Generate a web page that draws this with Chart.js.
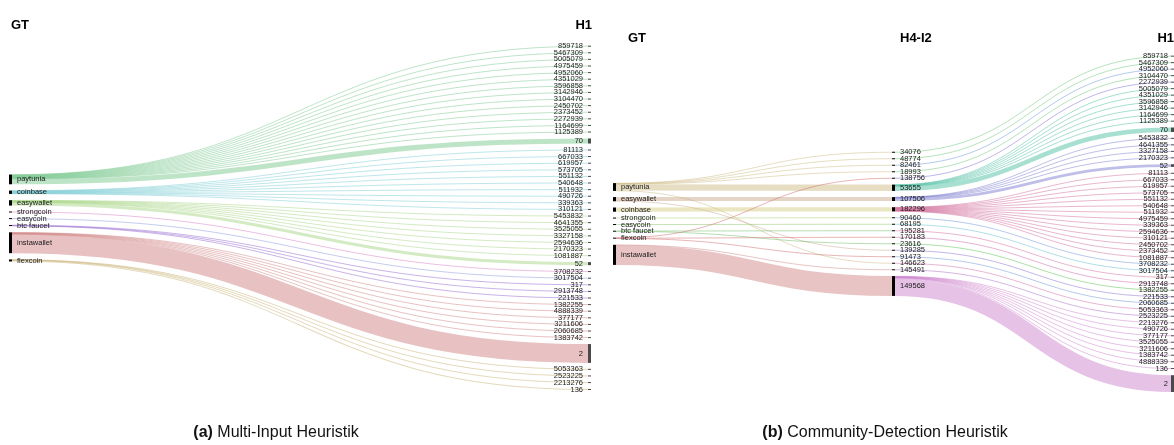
<!DOCTYPE html>
<html>
<head>
<meta charset="utf-8">
<script src="https://cdn.jsdelivr.net/npm/chart.js"></script>
<style>
  body { margin: 0; width: 1174px; height: 445px; background: #fff; position: relative; overflow: hidden;
         font-family: "Liberation Sans", Arial, sans-serif; }
  canvas { position: absolute; top: 0; }
  #ca { left: 0; }
  #cb { left: 605px; }
  .caption { position: absolute; top: 423px; font-size: 16px; line-height: 18px; color: #111;
             white-space: nowrap; transform: translateX(-50%); }
</style>
</head>
<body>
<canvas id="ca" width="605" height="445"></canvas>
<canvas id="cb" width="569" height="445"></canvas>
<div class="caption" style="left:276px"><b>(a)</b> Multi-Input Heuristik</div>
<div class="caption" style="left:885px"><b>(b)</b> Community-Detection Heuristik</div>
<script>
// ---- data ----
// ground truth wallets, order as drawn in each panel
const gtA = ['paytunia', 'coinbase', 'easywallet', 'strongcoin', 'easycoin', 'btc faucet', 'instawallet', 'flexcoin'];
const gtB = ['paytunia', 'easywallet', 'coinbase', 'strongcoin', 'easycoin', 'btc faucet', 'flexcoin', 'instawallet'];

// H1 clusters (multi-input heuristic), order in panel (a) and panel (b)
const h1A = ['859718', '5467309', '5005079', '4975459', '4952060', '4351029', '3596858', '3142946', '3104470',
  '2450702', '2373452', '2272939', '1164699', '1125389', '70', '81113', '667033', '619957', '573705', '551132',
  '540648', '511932', '490726', '339363', '310121', '5453832', '4641355', '3525055', '3327158', '2594636',
  '2170323', '1081887', '52', '3708232', '3017504', '317', '2913748', '221533', '1382255', '4888339', '377177',
  '3211606', '2060685', '1383742', '2', '5053363', '2523225', '2213276', '136'];
const h1B = ['859718', '5467309', '4952060', '3104470', '2272939', '5005079', '4351029', '3596858', '3142946',
  '1164699', '1125389', '70', '5453832', '4641355', '3327158', '2170323', '52', '81113', '667033', '619957',
  '573705', '551132', '540648', '511932', '4975459', '339363', '2594636', '310121', '2450702', '2373452',
  '1081887', '3708232', '3017504', '317', '2913748', '1382255', '221533', '2060685', '5053363', '2523225',
  '2213276', '490726', '377177', '3525055', '3211606', '1383742', '4888339', '136', '2'];

// H4-I2 clusters (community detection), panel (b) middle column
const h4B = ['34076', '48774', '82461', '18993', '138756', '53655', '107506', '182296', '90460', '68195',
  '195281', '170183', '23616', '139285', '91473', '146623', '145491', '149568'];

// size of the larger H1 clusters, every other cluster counts 1
const h1Big = ['70', '52', '2', '136'];
const h1BigValues = [15, 9, 56, 3];

// panel (a): GT wallet -> H1 clusters
const flowA = [
  ['paytunia', ['859718', '5467309', '5005079', '4975459', '4952060', '4351029', '3596858', '3142946', '3104470',
    '2450702', '2373452', '2272939', '1164699', '1125389', '70']],
  ['coinbase', ['81113', '667033', '619957', '573705', '551132', '540648', '511932', '490726', '339363', '310121']],
  ['easywallet', ['5453832', '4641355', '3525055', '3327158', '2594636', '2170323', '1081887', '52']],
  ['strongcoin', ['3708232']],
  ['easycoin', ['3017504']],
  ['btc faucet', ['317', '2913748', '221533']],
  ['instawallet', ['1382255', '4888339', '377177', '3211606', '2060685', '1383742', '2']],
  ['flexcoin', ['5053363', '2523225', '2213276', '136']]
];

// panel (b): GT wallet -> H4-I2 clusters
const flowB1 = [
  ['paytunia', ['34076', '48774', '82461', '18993', '53655', '146623']],
  ['easywallet', ['107506', '139285']],
  ['coinbase', ['182296']],
  ['strongcoin', ['90460']],
  ['easycoin', ['68195']],
  ['btc faucet', ['195281', '23616']],
  ['flexcoin', ['138756', '170183', '91473']],
  ['instawallet', ['145491', '149568']]
];

// panel (b): H4-I2 cluster -> H1 clusters
const flowB2 = [
  ['34076', ['859718']], ['48774', ['5467309']], ['82461', ['4952060']], ['18993', ['3104470']],
  ['138756', ['2272939']],
  ['53655', ['5005079', '4351029', '3596858', '3142946', '1164699', '1125389', '70']],
  ['107506', ['5453832', '4641355', '3327158', '2170323', '52']],
  ['182296', ['81113', '667033', '619957', '573705', '551132', '540648', '511932', '4975459', '339363',
    '2594636', '310121', '2450702', '2373452', '1081887']],
  ['90460', ['3708232']], ['68195', ['3017504']], ['195281', ['317']], ['170183', ['2913748']],
  ['23616', ['1382255']], ['139285', ['221533']], ['91473', ['2060685']], ['146623', ['5053363']],
  ['145491', ['2523225']],
  ['149568', ['2213276', '490726', '377177', '3525055', '3211606', '1383742', '4888339', '136', '2']]
];

// ---- colours (by link source) ----
const colorsA = {
  'paytunia': 'rgba(100,190,125,0.42)', 'coinbase': 'rgba(100,195,205,0.42)',
  'easywallet': 'rgba(150,205,110,0.42)', 'strongcoin': 'rgba(220,130,200,0.5)',
  'easycoin': 'rgba(140,155,225,0.5)', 'btc faucet': 'rgba(150,105,210,0.5)',
  'instawallet': 'rgba(200,110,110,0.42)', 'flexcoin': 'rgba(195,170,105,0.45)'
};
const colorsB = {
  'paytunia': 'rgba(200,180,120,0.45)', 'easywallet': 'rgba(200,160,130,0.45)',
  'coinbase': 'rgba(210,200,120,0.45)', 'strongcoin': 'rgba(170,210,110,0.5)',
  'easycoin': 'rgba(140,200,110,0.5)', 'btc faucet': 'rgba(110,190,100,0.5)',
  'flexcoin': 'rgba(210,110,110,0.5)', 'instawallet': 'rgba(200,115,115,0.42)',
  '34076': 'rgba(110,200,120,0.5)', '48774': 'rgba(110,200,120,0.5)', '82461': 'rgba(110,150,220,0.5)',
  '18993': 'rgba(110,200,120,0.5)', '138756': 'rgba(130,110,210,0.5)', '53655': 'rgba(60,185,150,0.45)',
  '107506': 'rgba(110,110,205,0.45)', '182296': 'rgba(205,95,145,0.45)', '90460': 'rgba(110,150,220,0.5)',
  '68195': 'rgba(100,190,210,0.5)', '195281': 'rgba(215,110,160,0.5)', '170183': 'rgba(205,100,170,0.5)',
  '23616': 'rgba(90,195,80,0.5)', '139285': 'rgba(140,110,210,0.5)', '91473': 'rgba(110,150,220,0.5)',
  '146623': 'rgba(210,110,170,0.5)', '145491': 'rgba(170,110,200,0.5)', '149568': 'rgba(195,110,195,0.42)'
};

// ---- sankey helpers ----
function h1Value(name) {
  const i = h1Big.indexOf(name);
  return i >= 0 ? h1BigValues[i] : 1;
}

function makeLinks(groups, valueOf) {
  const out = [];
  groups.forEach(([s, ts]) => ts.forEach(t => out.push({ s, t, v: valueOf(t) })));
  return out;
}

// stacks every column with a fixed gap (px) and centres it
function layout(cols, rawLinks, areaH, gapPx) {
  const nodes = {};
  cols.forEach((c, ci) => c.forEach(n => { nodes[n] = { name: n, col: ci, inV: 0, outV: 0, out: [], in: [] }; }));
  const links = rawLinks.map(l => {
    const link = { source: nodes[l.s], target: nodes[l.t], v: l.v };
    link.source.outV += l.v; link.target.inV += l.v;
    link.source.out.push(link); link.target.in.push(link);
    return link;
  });
  Object.values(nodes).forEach(n => { n.value = Math.max(n.inV, n.outV); });
  const sums = cols.map(c => c.reduce((a, n) => a + nodes[n].value, 0));
  const k = Math.min(...cols.map((c, i) => (areaH - (c.length - 1) * gapPx) / sums[i]));
  const gapU = gapPx / k;
  const ymax = areaH / k;
  cols.forEach((c, i) => {
    let y = (ymax - (sums[i] + (c.length - 1) * gapU)) / 2;
    c.forEach(n => { nodes[n].y0 = y; nodes[n].y1 = y + nodes[n].value; y = nodes[n].y1 + gapU; });
  });
  Object.values(nodes).forEach(n => {
    let sy = n.y0;
    n.out.sort((a, b) => a.target.y0 - b.target.y0).forEach(l => { l.sy = sy; sy += l.v; });
    let ty = n.y0;
    n.in.sort((a, b) => a.source.y0 - b.source.y0).forEach(l => { l.ty = ty; ty += l.v; });
  });
  return { nodes: Object.values(nodes), links, ymax, last: cols.length - 1 };
}

const linksA = makeLinks(flowA, h1Value);
const linksB2 = makeLinks(flowB2, h1Value);
const midValue = name => linksB2.filter(l => l.s === name).reduce((a, l) => a + l.v, 0);
const linksB1 = makeLinks(flowB1, midValue);

const padA = { left: 9, right: 17, top: 46, bottom: 55 };
const padB = { left: 8, right: 3, top: 56, bottom: 53 };
const LA = layout([gtA, h1A], linksA, 445 - padA.top - padA.bottom, 6.27);
const LB = layout([gtB, h4B, h1B], linksB1.concat(linksB2), 445 - padB.top - padB.bottom, 6.2);

const sankeyPlugin = {
  id: 'sankey',
  afterDraw(chart, args, opts) {
    const { ctx } = chart;
    const x = chart.scales.x, y = chart.scales.y;
    const L = opts.layout, nw = opts.nodeWidth;
    const colX = c => x.getPixelForValue(c / L.last);
    ctx.save();
    ctx.lineCap = 'butt';
    L.links.forEach(l => {
      const x0 = colX(l.source.col) + nw, x1 = colX(l.target.col);
      const y0 = y.getPixelForValue(l.sy + l.v / 2), y1 = y.getPixelForValue(l.ty + l.v / 2);
      const w = Math.abs(y.getPixelForValue(l.v) - y.getPixelForValue(0));
      const xm = (x0 + x1) / 2;
      ctx.strokeStyle = opts.colors[l.source.name];
      ctx.lineWidth = Math.max(1, w);
      ctx.beginPath();
      ctx.moveTo(x0, y0);
      ctx.bezierCurveTo(xm, y0, xm, y1, x1, y1);
      ctx.stroke();
    });
    ctx.font = '7.5px "Liberation Sans", Arial, sans-serif';
    ctx.textBaseline = 'middle';
    L.nodes.forEach(n => {
      const nx = colX(n.col);
      const top = y.getPixelForValue(n.y0), bot = y.getPixelForValue(n.y1);
      const h = Math.max(1, bot - top);
      ctx.fillStyle = n.col === L.last ? '#4a4a4a' : '#000';
      ctx.fillRect(nx, (top + bot) / 2 - h / 2, nw, h);
      ctx.fillStyle = '#1a1a1a';
      if (n.col === L.last) {
        ctx.textAlign = 'right';
        ctx.fillText(n.name, nx - opts.rightGap, (top + bot) / 2);
      } else {
        ctx.textAlign = 'left';
        ctx.fillText(n.name, nx + nw + 5, (top + bot) / 2);
      }
    });
    ctx.font = 'bold 13px "Liberation Sans", Arial, sans-serif';
    ctx.fillStyle = '#000';
    opts.headers.forEach(hd => {
      ctx.textAlign = hd.align;
      ctx.fillText(hd.text, colX(hd.col) + hd.dx, hd.y);
    });
    ctx.restore();
  }
};

function sankeyChart(id, L, pad, rightGap, colors, headers) {
  return new Chart(document.getElementById(id), {
    type: 'scatter',
    data: { datasets: [] },
    options: {
      responsive: false,
      animation: false,
      layout: { padding: pad },
      scales: {
        x: { type: 'linear', min: 0, max: 1, display: false },
        y: { type: 'linear', min: 0, max: L.ymax, reverse: true, display: false }
      },
      plugins: {
        legend: { display: false },
        tooltip: { enabled: false },
        sankey: { layout: L, nodeWidth: 3, rightGap, colors, headers }
      }
    },
    plugins: [sankeyPlugin]
  });
}

sankeyChart('ca', LA, padA, 5, colorsA, [
  { text: 'GT', col: 0, dx: 2, y: 25, align: 'left' },
  { text: 'H1', col: 1, dx: 4, y: 25, align: 'right' }
]);
sankeyChart('cb', LB, padB, 3, colorsB, [
  { text: 'GT', col: 0, dx: 15, y: 38, align: 'left' },
  { text: 'H4-I2', col: 1, dx: 8, y: 38, align: 'left' },
  { text: 'H1', col: 2, dx: 3, y: 38, align: 'right' }
]);
</script>
</body>
</html>
